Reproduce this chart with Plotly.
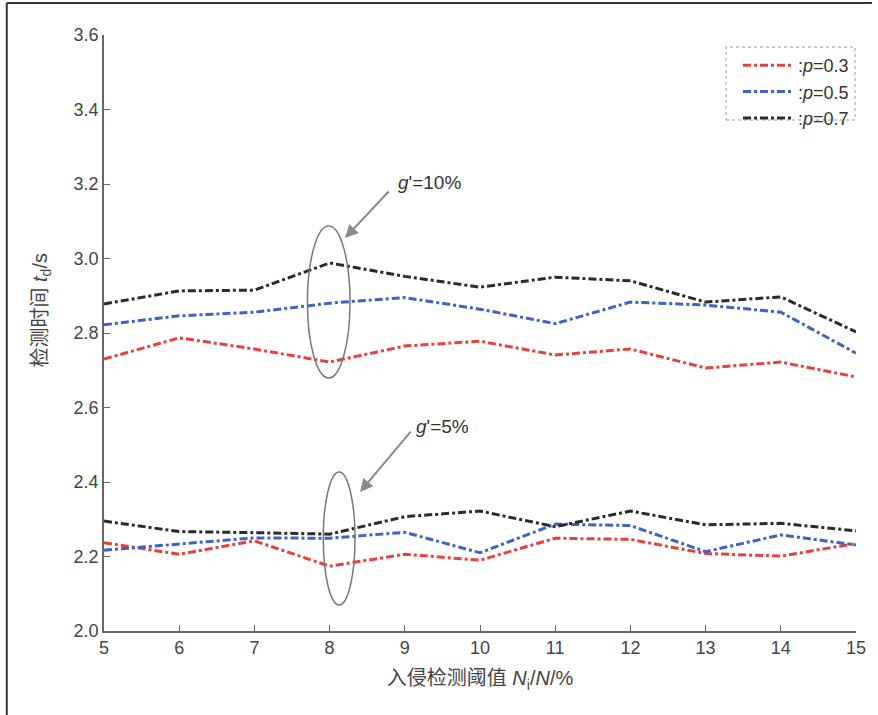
import plotly.graph_objects as go

x_vals = [5, 6, 7, 8, 9, 10, 11, 12, 13, 14, 15]

# g' = 10%
top_p03 = [2.73, 2.787, 2.757, 2.722, 2.765, 2.778, 2.741, 2.757, 2.706, 2.722, 2.682]
top_p05 = [2.822, 2.846, 2.856, 2.88, 2.895, 2.864, 2.825, 2.883, 2.875, 2.856, 2.746]
top_p07 = [2.878, 2.913, 2.915, 2.988, 2.952, 2.923, 2.95, 2.94, 2.883, 2.897, 2.803]

# g' = 5%
bot_p03 = [2.237, 2.206, 2.242, 2.174, 2.206, 2.19, 2.249, 2.246, 2.208, 2.201, 2.235]
bot_p05 = [2.217, 2.233, 2.25, 2.249, 2.265, 2.21, 2.287, 2.283, 2.213, 2.258, 2.231]
bot_p07 = [2.295, 2.267, 2.264, 2.26, 2.307, 2.322, 2.28, 2.322, 2.285, 2.289, 2.269]

labels = [":<i>p</i>=0.3", ":<i>p</i>=0.5", ":<i>p</i>=0.7"]
colors = ["#e8413c", "#3f62c4", "#2b2b2b"]

x_ticks = list(range(5, 16))
y_ticks = [2.0, 2.2, 2.4, 2.6, 2.8, 3.0, 3.2, 3.4, 3.6]

FONT = "Liberation Sans, Noto Sans CJK SC, sans-serif"
DASH = "8px,3px,3px,3px"

L, R, T, B = 104, 16, 35, 84
PW = 878 - L - R
PH = 715 - T - B


def px_x(p):
    return (p - L) / PW


def px_y(p):
    return (715 - B - p) / PH


fig = go.Figure()
for i, (top, bot) in enumerate(zip([top_p03, top_p05, top_p07], [bot_p03, bot_p05, bot_p07])):
    fig.add_trace(go.Scatter(x=x_vals, y=top, mode="lines", name=labels[i],
                             line=dict(color=colors[i], width=3, dash=DASH),
                             showlegend=True))
    fig.add_trace(go.Scatter(x=x_vals, y=bot, mode="lines", name=labels[i],
                             line=dict(color=colors[i], width=3, dash=DASH),
                             showlegend=False))

# Ellipses
fig.add_shape(type="circle", xref="x", yref="y", x0=7.705, x1=8.272, y0=2.679, y1=3.087,
              line=dict(color="#777777", width=1.5))
fig.add_shape(type="circle", xref="x", yref="y", x0=7.916, x1=8.338, y0=2.07, y1=2.427,
              line=dict(color="#777777", width=1.5))

# Arrows
fig.add_annotation(x=8.206, y=3.055, xref="x", yref="y", ax=45, ay=-48, text="",
                   showarrow=True, arrowhead=2, arrowsize=1.3, arrowwidth=2, arrowcolor="#8a8a8a")
fig.add_annotation(x=8.404, y=2.373, xref="x", yref="y", ax=52, ay=-62, text="",
                   showarrow=True, arrowhead=2, arrowsize=1.3, arrowwidth=2, arrowcolor="#8a8a8a")
fig.add_annotation(x=8.88, y=3.203, xref="x", yref="y", text="<i>g</i>'=10%", showarrow=False,
                   xanchor="left", font=dict(size=19, color="#333333", family=FONT))
fig.add_annotation(x=9.12, y=2.55, xref="x", yref="y", text="<i>g</i>'=5%", showarrow=False,
                   xanchor="left", font=dict(size=19, color="#333333", family=FONT))

# Y axis title as annotation
fig.add_annotation(x=px_x(40), y=px_y(311), xref="paper", yref="paper",
                   text="检测时间 <i>t</i><sub>d</sub>/s", textangle=-90, showarrow=False,
                   xanchor="center", yanchor="middle",
                   font=dict(size=20, color="#444444", family=FONT))

# Legend box (dotted)
fig.add_shape(type="rect", xref="paper", yref="paper", x0=px_x(731), x1=px_x(861),
              y0=px_y(120), y1=px_y(47), line=dict(color="#999999", width=1, dash="dot"))

# Page border lines (left and top)
fig.add_shape(type="line", xref="paper", yref="paper", x0=px_x(6), x1=px_x(6),
              y0=px_y(715), y1=px_y(3), line=dict(color="#333333", width=2))
fig.add_shape(type="line", xref="paper", yref="paper", x0=px_x(6), x1=px_x(878),
              y0=px_y(3), y1=px_y(3), line=dict(color="#333333", width=2))

fig.update_layout(
    width=878, height=715,
    margin=dict(l=L, r=R, t=T, b=B),
    paper_bgcolor="white", plot_bgcolor="white",
    font=dict(family=FONT, size=18, color="#444444"),
    showlegend=True,
    legend=dict(x=px_x(860), xanchor="right", y=px_y(47), yanchor="top",
                bgcolor="rgba(0,0,0,0)", borderwidth=0, tracegroupgap=0, itemwidth=50,
                font=dict(size=18, color="#333333", family=FONT)),
    xaxis=dict(range=[5, 15], tickvals=x_ticks, ticktext=[str(v) for v in x_ticks],
               showgrid=False, zeroline=False, showline=True, linecolor="#666666", linewidth=1.5,
               ticks="inside", ticklen=6, tickcolor="#666666", tickfont=dict(size=18),
               title=dict(text="入侵检测阈值 <i>N</i><sub>i</sub>/<i>N</i>/%", standoff=14,
                          font=dict(size=20, color="#444444"))),
    yaxis=dict(range=[2.0, 3.6], tickvals=y_ticks, ticktext=[f"{v:.1f}" for v in y_ticks],
               showgrid=False, zeroline=False, showline=True, linecolor="#666666", linewidth=1.5,
               ticks="inside", ticklen=6, tickcolor="#666666", tickfont=dict(size=18)),
)

fig.write_html("out.html")
